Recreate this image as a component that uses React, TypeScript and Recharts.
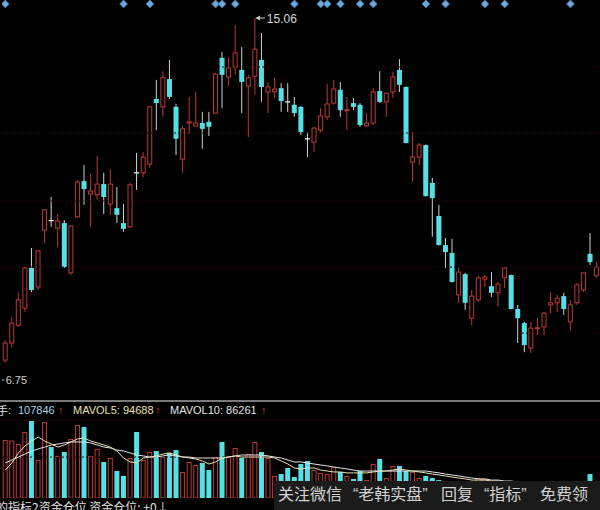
import React from 'react';
import { ComposedChart, Bar, Line, Scatter, XAxis, YAxis, ReferenceLine } from 'recharts';

// daily OHLC
const OPEN = [
  6.82, 7.23, 7.66, 8.07, 9.04, 8.58, 9.95, 10.18, 10.0, 10.12,
  8.92, 10.27, 11.13, 10.82, 10.8, 11.06, 10.58, 10.48, 10.12, 10.03,
  11.33, 11.33, 11.54, 13.11, 12.92, 13.59, 12.92, 11.66, 12.53, 12.46,
  12.53, 12.56, 12.77, 14.1, 13.64, 13.88, 13.81, 13.42, 13.66, 14.05,
  13.28, 13.28, 13.37, 13.04, 12.97, 12.92, 12.15, 12.07, 12.36, 12.68,
  13.01, 13.33, 12.83, 13.01, 12.97, 12.46, 12.53, 13.3, 13.04, 13.28,
  13.81, 13.4, 11.59, 11.71, 12.0, 11.09, 10.29, 9.59, 9.4, 8.39,
  8.89, 7.83, 8.27, 8.77, 8.6, 8.44, 8.8, 8.87, 8.05, 7.71,
  7.11, 7.58, 7.62, 8.15, 8.2, 8.36, 7.74, 8.2, 8.51, 9.38,
  8.85,
];
const HIGH = [
  7.3, 7.86, 8.44, 9.06, 9.52, 9.47, 10.46, 10.75, 10.34, 10.19,
  10.07, 11.16, 11.52, 11.3, 11.74, 11.33, 11.42, 10.99, 10.58, 11.09,
  11.81, 11.83, 12.94, 13.57, 13.78, 14.05, 12.99, 12.46, 13.16, 13.28,
  12.8, 12.8, 13.74, 14.24, 14.1, 14.89, 14.36, 13.69, 15.06, 14.7,
  13.52, 13.62, 13.49, 13.49, 13.16, 12.94, 12.31, 12.44, 12.89, 13.47,
  13.57, 13.52, 13.16, 13.13, 13.01, 12.77, 13.37, 13.78, 13.26, 13.76,
  14.07, 13.41, 12.31, 12.05, 12.01, 11.21, 10.56, 9.76, 9.74, 9.04,
  8.92, 8.51, 8.84, 8.87, 8.94, 8.7, 9.06, 8.88, 8.15, 7.74,
  7.74, 7.83, 7.98, 8.46, 8.39, 8.44, 8.27, 8.68, 8.93, 9.88,
  9.18,
];
const LOW = [
  6.75, 7.13, 7.62, 7.98, 8.46, 8.51, 9.64, 10.03, 9.54, 9.04,
  8.87, 10.24, 10.56, 10.03, 10.68, 10.34, 10.32, 10.12, 9.91, 10.0,
  10.92, 11.23, 11.45, 12.36, 12.68, 13.11, 11.76, 11.33, 12.27, 12.44,
  11.91, 12.22, 12.75, 12.89, 13.42, 13.69, 12.77, 12.19, 13.21, 13.04,
  12.77, 13.13, 12.8, 12.8, 12.68, 12.24, 11.71, 11.83, 12.31, 12.6,
  12.97, 12.68, 12.36, 12.84, 12.44, 12.44, 12.48, 13.01, 12.68, 13.13,
  13.28, 12.04, 11.11, 11.52, 10.76, 9.79, 9.58, 9.04, 8.69, 8.2,
  8.03, 7.66, 8.22, 8.58, 8.34, 8.1, 8.56, 8.04, 7.23, 7.01,
  6.99, 7.42, 7.42, 7.95, 7.98, 7.91, 7.54, 8.15, 8.46, 9.11,
  8.8,
];
const CLOSE = [
  7.23, 7.71, 8.27, 9.04, 8.51, 9.45, 10.44, 10.18, 10.17, 9.06,
  10.05, 11.11, 10.94, 10.89, 11.06, 10.75, 11.06, 10.32, 9.98, 11.04,
  11.33, 11.71, 12.92, 13.01, 13.62, 13.16, 12.15, 12.39, 12.56, 12.53,
  12.39, 12.44, 13.71, 13.69, 13.86, 14.22, 13.52, 13.62, 14.31, 13.4,
  13.4, 13.35, 13.06, 13.04, 12.77, 12.31, 12.15, 12.41, 12.7, 12.99,
  13.35, 12.84, 12.85, 12.92, 12.48, 12.53, 13.28, 13.04, 13.25, 13.64,
  13.45, 12.05, 11.71, 12.0, 10.77, 10.72, 9.59, 9.42, 8.7, 8.94,
  8.2, 8.36, 8.8, 8.82, 8.44, 8.65, 9.04, 8.05, 7.83, 7.18,
  7.59, 7.6, 7.95, 8.2, 8.31, 8.05, 8.15, 8.63, 8.92, 9.18,
  9.06,
];

// volume in thousand lots, and its 5 / 10 day averages
const VOLUME = [
  365, 362, 340, 416, 485, 239, 479, 321, 265, 290,
  372, 460, 447, 265, 309, 227, 252, 170, 139, 252,
  416, 239, 290, 296, 258, 284, 302, 164, 227, 208,
  221, 176, 258, 353, 265, 315, 252, 277, 353, 290,
  252, 139, 151, 189, 132, 214, 233, 176, 158, 151,
  195, 164, 139, 120, 170, 113, 214, 246, 126, 202,
  202, 170, 164, 126, 139, 126, 113, 101, 107, 95,
  88, 101, 126, 120, 88, 82, 95, 101, 88, 95,
  76, 63, 69, 76, 82, 76, 76, 82, 88, 151,
  107.8,
];
const MAVOL5 = [
  176, 221, 284, 328, 359, 384, 359, 340, 321, 334,
  353, 372, 378, 359, 347, 334, 321, 296, 252, 227,
  221, 252, 258, 265, 277, 284, 271, 258, 252, 246,
  233, 214, 227, 252, 258, 265, 258, 258, 258, 258,
  258, 252, 233, 214, 189, 183, 189, 189, 176, 170,
  164, 164, 158, 158, 158, 158, 164, 170, 170, 176,
  183, 176, 170, 164, 158, 151, 145, 139, 132, 126,
  120, 113, 113, 113, 107, 107, 101, 101, 95, 95,
  88, 82, 76, 76, 76, 76, 76, 82, 82, 95,
  94.7,
];
const MAVOL10 = [
  221, 239, 258, 277, 296, 309, 321, 334, 340, 347,
  353, 353, 353, 347, 334, 321, 315, 302, 296, 284,
  271, 265, 258, 258, 265, 271, 265, 258, 258, 252,
  252, 252, 252, 252, 258, 265, 271, 271, 271, 271,
  265, 258, 252, 239, 227, 227, 221, 214, 208, 202,
  195, 189, 183, 176, 170, 170, 170, 170, 170, 170,
  170, 170, 170, 170, 170, 164, 158, 151, 145, 139,
  132, 126, 120, 120, 113, 113, 107, 107, 101, 101,
  101, 95, 95, 95, 88, 88, 88, 88, 88, 88,
  86.3,
];

// signal markers along the top edge
const SIGNALS = [0, 18, 22, 32, 33, 35, 44, 48, 49, 51, 54, 56, 64, 67, 73, 76, 86];
const SIGNAL_LEVEL = 15.4;

const PRICE_DOMAIN = [5.858, 15.494];
const PRICE_GRID = [13.88, 12.29, 10.65, 9.06, 7.47];
const VOL_DOMAIN = [0, 504];
const VOL_GRID = [491, 258];

const UP = '#bd3a35';
const DOWN = '#56e0e6';
const DOWN_WICK = '#c4d6d6';
const FLAT = '#d8d8d8';
const GRID = '#2a0b0b';

const rows = OPEN.map((o, i) => ({
  i,
  o,
  h: HIGH[i],
  l: LOW[i],
  c: CLOSE[i],
  range: [LOW[i], HIGH[i]],
  sig: SIGNALS.includes(i) ? SIGNAL_LEVEL : null,
  vol: VOLUME[i],
  ma5: MAVOL5[i],
  ma10: MAVOL10[i],
}));

const hiIdx = HIGH.indexOf(Math.max(...HIGH));
const loIdx = LOW.indexOf(Math.min(...LOW));

const Candle = (props: any) => {
  const { x, y, width, height, payload, index } = props;
  if (!payload) return <g />;
  const top = Math.min(y, y + height);
  const bot = Math.max(y, y + height);
  const { o, h, l, c } = payload;
  const py = (p: number) => top + ((h - p) / (h - l || 1)) * (bot - top);
  const cx = x + width / 2;
  const bw = 5;
  let body;
  if (c > o) {
    const t = py(c);
    const b = py(o);
    body = (
      <>
        <line x1={cx} x2={cx} y1={top} y2={bot} stroke={UP} />
        <rect x={cx - bw / 2 + 0.5} y={t} width={bw - 1} height={Math.max(b - t, 1)} fill="#000" stroke={UP} />
      </>
    );
  } else if (c < o) {
    const t = py(o);
    const b = py(c);
    body = (
      <>
        <line x1={cx} x2={cx} y1={top} y2={bot} stroke={DOWN_WICK} />
        <rect x={cx - bw / 2} y={t} width={bw} height={Math.max(b - t, 1.5)} fill={DOWN} />
      </>
    );
  } else {
    const m = py(o);
    body = (
      <>
        <line x1={cx} x2={cx} y1={top} y2={bot} stroke={FLAT} />
        <line x1={cx - bw / 2} x2={cx + bw / 2} y1={m} y2={m} stroke={FLAT} strokeWidth={1.5} />
      </>
    );
  }
  return (
    <g>
      {body}
      {index === hiIdx && (
        <g>
          <line x1={cx + 1} x2={cx + 10} y1={top} y2={top} stroke="#d0d0d0" />
          <polygon points={`${cx + 1},${top} ${cx + 5},${top - 2.5} ${cx + 5},${top + 2.5}`} fill="#d0d0d0" />
          <text x={cx + 12} y={top + 4.5} fontSize={12} fill="#d8d8d8" fontFamily="'Liberation Sans', Arial, sans-serif">
            {h.toFixed(2)}
          </text>
        </g>
      )}
      {index === loIdx && (
        <g>
          <line x1={cx - 6} x2={cx - 1} y1={bot + 17} y2={bot + 17} stroke="#c8c8c8" />
          <text x={cx + 0.5} y={bot + 21} fontSize={11} fill="#d0d0d0" fontFamily="'Liberation Sans', Arial, sans-serif">
            {l.toFixed(2)}
          </text>
        </g>
      )}
    </g>
  );
};

const Diamond = (props: any) => {
  const { cx, cy, payload } = props;
  if (!payload || payload.sig == null || cy == null || Number.isNaN(cy)) return <g />;
  return (
    <polygon
      points={`${cx},${cy - 4} ${cx + 4},${cy} ${cx},${cy + 4} ${cx - 4},${cy}`}
      fill="#6ea9dc"
      stroke="#35668f"
      strokeWidth={0.8}
    />
  );
};

const VolBar = (props: any) => {
  const { x, y, width, height, payload } = props;
  if (!payload) return <g />;
  const cx = x + width / 2;
  const top = Math.min(y, y + height);
  const hgt = Math.abs(height);
  if (payload.c > payload.o) {
    return <rect x={cx - 2} y={top + 0.5} width={4} height={Math.max(hgt - 0.5, 1)} fill="#000" stroke={UP} />;
  }
  return <rect x={cx - 2.5} y={top} width={5} height={hgt} fill={DOWN} />;
};

const label = (left: number, color: string, text: string, extra: React.CSSProperties = {}) => (
  <span
    style={{
      position: 'absolute',
      left,
      top: 404,
      fontSize: 11,
      lineHeight: '12px',
      color,
      whiteSpace: 'nowrap',
      ...extra,
    }}
  >
    {text}
  </span>
);

const cjk = "'Noto Sans CJK SC', 'Liberation Sans', sans-serif";
const mark = "'Liberation Sans', 'Noto Sans CJK SC', sans-serif";

// watermark pieces: [left, text]
const WATERMARK: [number, string][] = [
  [278, '关注微信'],
  [353, '“老韩实盘”'],
  [441, '回复'],
  [484, '“指标”'],
  [540, '免费领'],
];

export default function App() {
  return (
    <div
      style={{
        position: 'absolute',
        left: 0,
        top: 0,
        width: 600,
        height: 510,
        background: '#000',
        overflow: 'hidden',
        fontFamily: "'Liberation Sans', Arial, sans-serif",
      }}
    >
      <div style={{ position: 'absolute', left: 2, top: 0 }}>
        <ComposedChart width={598} height={400} data={rows} margin={{ top: 0, right: 0, bottom: 0, left: 0 }}>
          <XAxis dataKey="i" hide />
          <YAxis hide domain={PRICE_DOMAIN} allowDataOverflow />
          {PRICE_GRID.map((v) => (
            <ReferenceLine key={v} y={v} stroke={GRID} strokeDasharray="2 2" />
          ))}
          <Bar dataKey="range" shape={<Candle />} isAnimationActive={false} />
          <Scatter dataKey="sig" shape={<Diamond />} isAnimationActive={false} />
        </ComposedChart>
      </div>

      <div style={{ position: 'absolute', left: 0, top: 400, width: 600, height: 2, background: '#7a7a7a' }} />

      <span style={{ position: 'absolute', left: -3, top: 404, fontSize: 11, lineHeight: '12px', color: '#e0e0e0', fontFamily: cjk }}>
        手
      </span>
      {label(8, '#e0e0e0', ':')}
      {label(18, '#a6d2e6', '107846')}
      {label(58, '#d9473f', '↑', { fontWeight: 700 })}
      {label(73, '#e9e1b5', 'MAVOL5: 94688')}
      {label(155, '#d9473f', '↑', { fontWeight: 700 })}
      {label(170, '#e4e4e4', 'MAVOL10: 86261')}
      {label(261, '#d9473f', '↑', { fontWeight: 700 })}

      <div style={{ position: 'absolute', left: 2, top: 418 }}>
        <ComposedChart width={598} height={80} data={rows} margin={{ top: 0, right: 0, bottom: 0, left: 0 }}>
          <XAxis dataKey="i" hide />
          <YAxis hide domain={VOL_DOMAIN} allowDataOverflow />
          {VOL_GRID.map((v) => (
            <ReferenceLine key={v} y={v} stroke={GRID} strokeDasharray="2 2" />
          ))}
          <Bar dataKey="vol" shape={<VolBar />} isAnimationActive={false} />
          <Line type="linear" dataKey="ma10" stroke="#e4e4e4" strokeWidth={1} dot={false} isAnimationActive={false} />
          <Line type="linear" dataKey="ma5" stroke="#e9e1b5" strokeWidth={1} dot={false} isAnimationActive={false} />
        </ComposedChart>
      </div>

      <span
        style={{
          position: 'absolute',
          left: -4,
          top: 500,
          fontSize: 12,
          lineHeight: '14px',
          color: '#e0e0e0',
          fontFamily: cjk,
          whiteSpace: 'nowrap',
        }}
      >
        的指标2资金仓位 资金仓位: +0↓
      </span>

      <div style={{ position: 'absolute', left: 274, top: 481, width: 326, height: 29, background: '#1b1b1b' }} />
      {WATERMARK.map(([x, t]) => (
        <span
          key={t}
          style={{
            position: 'absolute',
            left: x,
            top: 485,
            fontSize: 16,
            lineHeight: '20px',
            color: '#d2d2d2',
            fontFamily: mark,
            whiteSpace: 'nowrap',
          }}
        >
          {t}
        </span>
      ))}
    </div>
  );
}
